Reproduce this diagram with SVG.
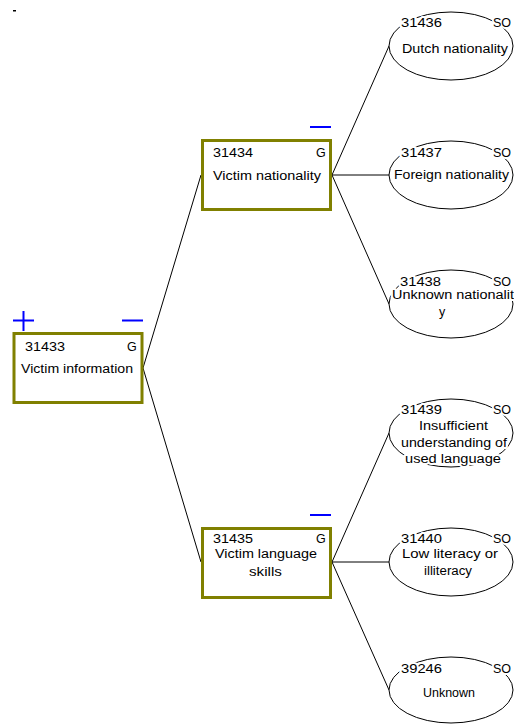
<svg xmlns="http://www.w3.org/2000/svg" width="514" height="725" viewBox="0 0 514 725">
<style>
.box{fill:#fff;stroke:#808000;stroke-width:3}
.ell{fill:#fff;stroke:#000;stroke-width:1}
.con{stroke:#000;stroke-width:1;fill:none}
.sign{stroke:#0000ff;stroke-width:2;fill:none}
text{font-family:"Liberation Sans",Arial,sans-serif;font-size:12.5px;fill:#000}
.c{text-anchor:middle}
.bg{paint-order:stroke;stroke:#fff;stroke-width:4;stroke-linejoin:round}
</style>
<rect x="13" y="10" width="3" height="1.5" fill="#000"/>
<g id="connectors">
<line class="con" x1="143" y1="368" x2="201" y2="175"/>
<line class="con" x1="143" y1="368" x2="201" y2="562"/>
<line class="con" x1="332" y1="175" x2="389" y2="46"/>
<line class="con" x1="332" y1="175" x2="389" y2="175"/>
<line class="con" x1="332" y1="175" x2="389" y2="304"/>
<line class="con" x1="332" y1="562" x2="389" y2="433"/>
<line class="con" x1="332" y1="562" x2="389" y2="562"/>
<line class="con" x1="332" y1="562" x2="389" y2="690"/>
</g>
<g id="n31433">
<rect class="box" x="14" y="333.5" width="128" height="69"/>
<path class="sign" d="M13 320.5H34M23.5 311V331M122 320.5H143"/>
<text x="25" y="351" textLength="40" lengthAdjust="spacingAndGlyphs">31433</text>
<text x="127" y="351">G</text>
<text x="21" y="373" textLength="112" lengthAdjust="spacingAndGlyphs">Victim information</text>
</g>
<g id="n31434">
<rect class="box" x="202.5" y="140.5" width="128" height="69"/>
<path class="sign" d="M310 127H331"/>
<text x="213" y="157" textLength="40" lengthAdjust="spacingAndGlyphs">31434</text>
<text x="316" y="157">G</text>
<text x="213" y="180" textLength="108" lengthAdjust="spacingAndGlyphs">Victim nationality</text>
</g>
<g id="n31435">
<rect class="box" x="202.5" y="528.5" width="128" height="69"/>
<path class="sign" d="M310 515H331"/>
<text x="213" y="543" textLength="40" lengthAdjust="spacingAndGlyphs">31435</text>
<text x="316" y="543">G</text>
<text x="215" y="558" textLength="102" lengthAdjust="spacingAndGlyphs">Victim language</text>
<text x="249" y="576" textLength="33" lengthAdjust="spacingAndGlyphs">skills</text>
</g>
<g id="n31436">
<ellipse class="ell" cx="451" cy="46" rx="62" ry="34"/>
<text class="bg" x="401" y="27" textLength="41" lengthAdjust="spacingAndGlyphs">31436</text>
<text class="bg" x="493" y="27">SO</text>
<text x="402" y="53" textLength="106" lengthAdjust="spacingAndGlyphs">Dutch nationality</text>
</g>
<g id="n31437">
<ellipse class="ell" cx="451" cy="175" rx="62" ry="34"/>
<text class="bg" x="401" y="157" textLength="41" lengthAdjust="spacingAndGlyphs">31437</text>
<text class="bg" x="493" y="157">SO</text>
<text class="bg" x="394" y="179" textLength="115" lengthAdjust="spacingAndGlyphs">Foreign nationality</text>
</g>
<g id="n31438">
<ellipse class="ell" cx="451" cy="304" rx="62" ry="34"/>
<text class="bg" x="400" y="286" textLength="41" lengthAdjust="spacingAndGlyphs">31438</text>
<text class="bg" x="493" y="286">SO</text>
<text class="bg" x="392" y="299" textLength="122" lengthAdjust="spacingAndGlyphs">Unknown nationalit</text>
<text x="439" y="316">y</text>
</g>
<g id="n31439">
<ellipse class="ell" cx="451" cy="433" rx="62" ry="34"/>
<text class="bg" x="401" y="414" textLength="41" lengthAdjust="spacingAndGlyphs">31439</text>
<text class="bg" x="493" y="414">SO</text>
<text class="bg" x="419" y="430" textLength="69" lengthAdjust="spacingAndGlyphs">Insufficient</text>
<text class="bg" x="401" y="446.5" textLength="106" lengthAdjust="spacingAndGlyphs">understanding of</text>
<text class="bg" x="405" y="463" textLength="96" lengthAdjust="spacingAndGlyphs">used language</text>
</g>
<g id="n31440">
<ellipse class="ell" cx="451" cy="562" rx="62" ry="34"/>
<text class="bg" x="401" y="543" textLength="41" lengthAdjust="spacingAndGlyphs">31440</text>
<text class="bg" x="493" y="543">SO</text>
<text x="402" y="558" textLength="96" lengthAdjust="spacingAndGlyphs">Low literacy or</text>
<text x="424" y="575" textLength="48" lengthAdjust="spacingAndGlyphs">illiteracy</text>
</g>
<g id="n39246">
<ellipse class="ell" cx="451" cy="690" rx="62" ry="33"/>
<text class="bg" x="401" y="673" textLength="41" lengthAdjust="spacingAndGlyphs">39246</text>
<text class="bg" x="493" y="673">SO</text>
<text x="423" y="696.5" textLength="52" lengthAdjust="spacingAndGlyphs">Unknown</text>
</g>
</svg>
